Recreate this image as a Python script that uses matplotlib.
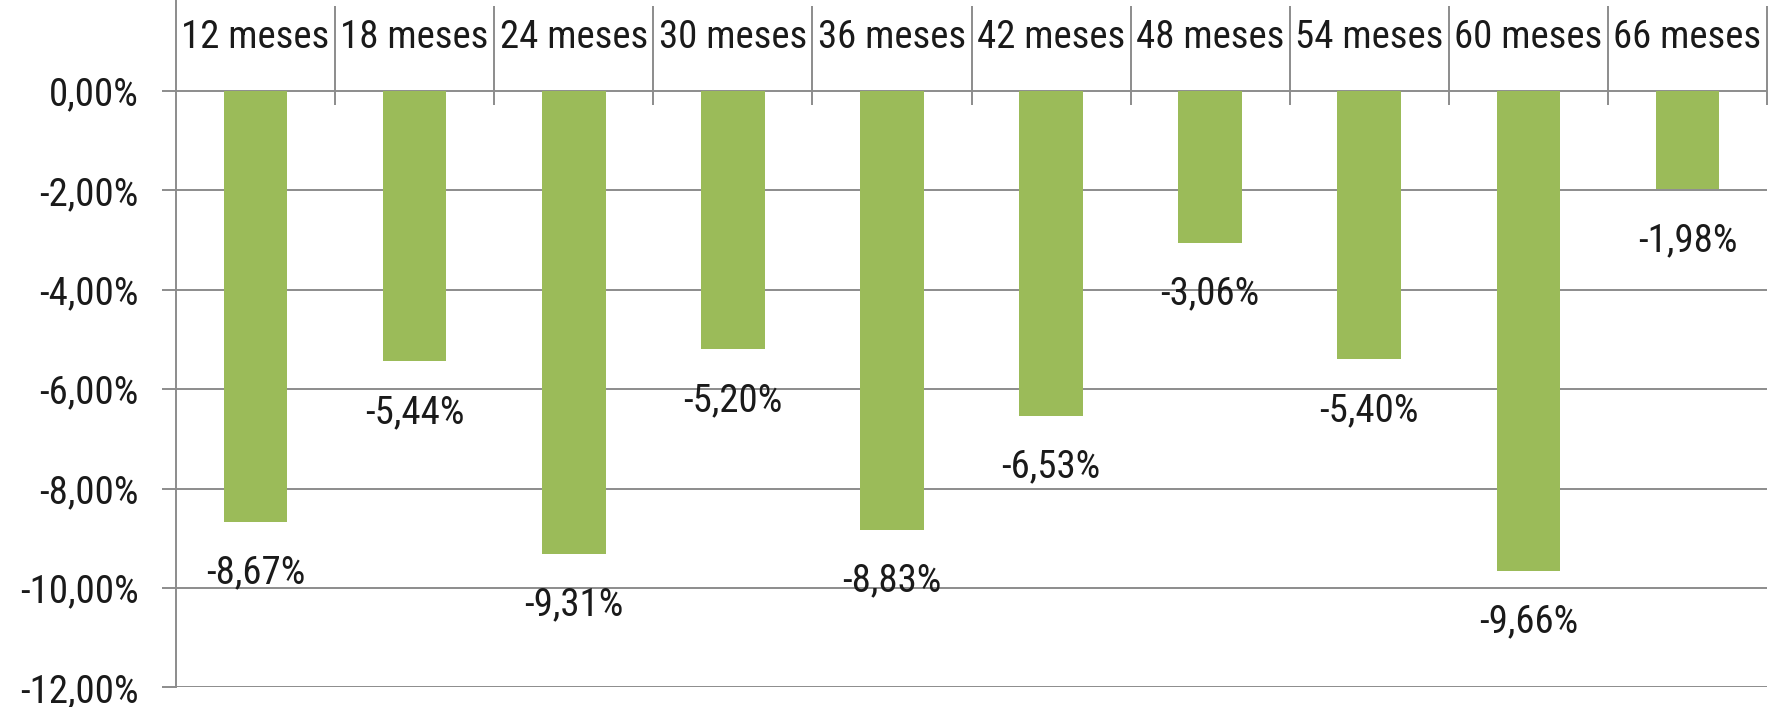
import numpy as np
import matplotlib
matplotlib.use("Agg")
import matplotlib.pyplot as plt
from matplotlib import font_manager

categories = ["12 meses", "18 meses", "24 meses", "30 meses", "36 meses",
              "42 meses", "48 meses", "54 meses", "60 meses", "66 meses"]
values = [-8.67, -5.44, -9.31, -5.20, -8.83, -6.53, -3.06, -5.40, -9.66, -1.98]
yticks = [0, -2, -4, -6, -8, -10, -12]

# choose a narrow font, similar to the reference's condensed look
entries = font_manager.fontManager.ttflist
def has(name, stretch=None):
    for f in entries:
        if f.name == name and (stretch is None or str(f.stretch) == stretch):
            return True
    return False

if has("Roboto Condensed"):
    family, stretch, fs = "Roboto Condensed", "normal", 28
elif has("Liberation Sans Narrow"):
    family, stretch, fs = "Liberation Sans Narrow", "normal", 28
elif has("DejaVu Sans", "condensed"):
    family, stretch, fs = "DejaVu Sans", "condensed", 25
elif has("Liberation Sans"):
    family, stretch, fs = "Liberation Sans", "normal", 24
else:
    family, stretch, fs = "DejaVu Sans", "normal", 22
plt.rcParams["font.family"] = [family, "DejaVu Sans"]
plt.rcParams["font.stretch"] = stretch

W, H, DPI = 1781, 707, 100
fig = plt.figure(figsize=(W / DPI, H / DPI), dpi=DPI)
fig.patch.set_facecolor("white")

px_per_unit = 49.7
zero_px = 91
bottom_px = zero_px + 12 * px_per_unit
left_px, right_px = 176, 1767
ax = fig.add_axes([left_px / W, 1 - bottom_px / H, (right_px - left_px) / W, bottom_px / H])
top_val = zero_px / px_per_unit
ax.set_ylim(-12, top_val)
n = len(categories)
x = np.arange(n)
ax.set_xlim(-0.5, n - 0.5)

grid_c = "#8c8c8c"
txt_c = "#1a1a1a"

for t in yticks:
    ax.axhline(t, color=grid_c, lw=1.4, zorder=1)

ax.bar(x, values, width=0.40, color="#9BBB59", zorder=2)

# category separators (crossing tick marks of the top category axis)
ax.vlines(np.arange(1, n + 1) - 0.5, -14 / px_per_unit, (zero_px - 6) / px_per_unit,
          color=grid_c, lw=1.4, zorder=1, clip_on=False)

for xi, c in zip(x, categories):
    ax.text(xi, (zero_px - 37) / px_per_unit, c, ha="center", va="center",
            fontsize=fs, color=txt_c)

for xi, v in zip(x, values):
    ax.annotate(f"{v:.2f}%".replace(".", ","), (xi, v), xytext=(0, -51 * 72 / DPI),
                textcoords="offset points", ha="center", va="center",
                fontsize=fs, color=txt_c)

ax.set_yticks(yticks)
ax.set_yticklabels([f"{t:.2f}%".replace(".", ",") for t in yticks], fontsize=fs, color=txt_c)
ax.tick_params(axis="y", length=14 * 72 / DPI, width=1.4, color=grid_c, pad=17)
ax.set_xticks([])
for s in ["top", "right", "bottom"]:
    ax.spines[s].set_visible(False)
ax.spines["left"].set_color(grid_c)
ax.spines["left"].set_linewidth(1.4)
ax.set_facecolor("white")

fig.savefig("out.png", dpi=DPI, facecolor="white")
